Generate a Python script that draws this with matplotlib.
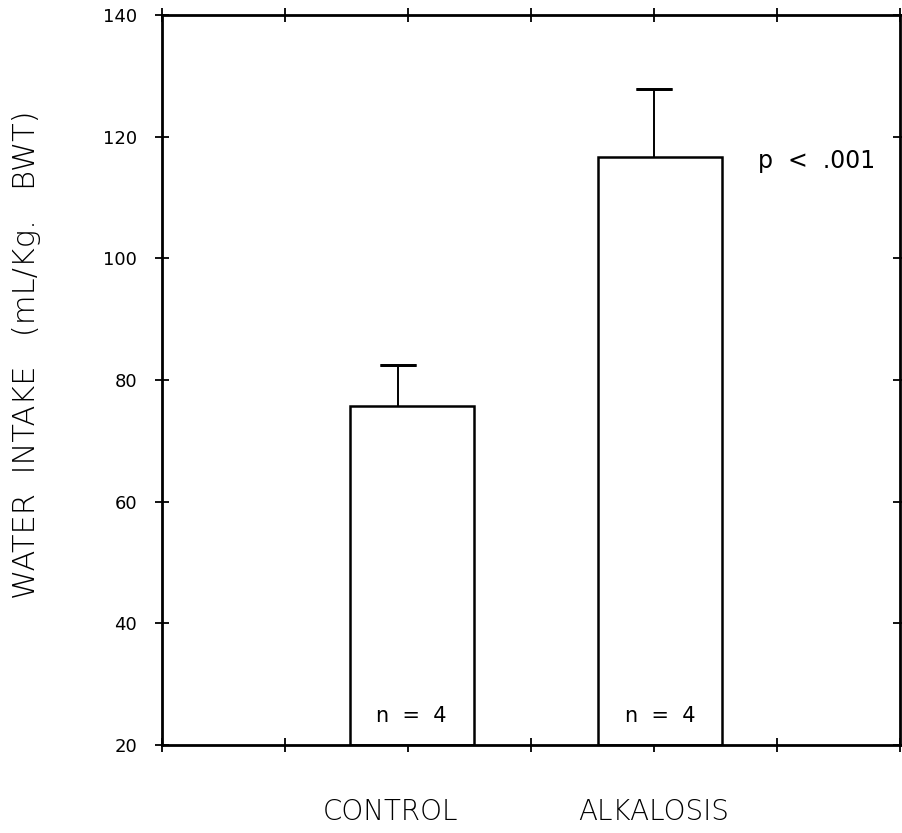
import matplotlib
matplotlib.use("Agg")
import matplotlib.pyplot as plt
from matplotlib.transforms import blended_transform_factory

categories = ["CONTROL", "ALKALOSIS"]
means = [75.8, 116.7]
errors = [6.7, 11.2]
n_labels = ["n  =  4", "n  =  4"]
y_ticks = [20, 40, 60, 80, 100, 120, 140]
y_tick_labels = ["20", "40", "60", "80", "100", "120", "140"]

bar_pos = [2.03, 4.05]
err_pos = [1.92, 4.0]
label_pos = [1.86, 4.0]

plt.rcParams['font.family'] = ['DejaVu Sans']
fig = plt.figure(figsize=(9.03, 8.33), dpi=100)
ax = fig.add_axes([162/903, 88/833, 738/903, 730/833])

ax.bar(bar_pos, [m - 20 for m in means], bottom=20, width=1.01,
       facecolor="white", edgecolor="black", linewidth=1.8, zorder=2)
for xp, m, e in zip(err_pos, means, errors):
    ax.errorbar([xp], [m + e / 2], yerr=[[e / 2], [e / 2]], fmt="none",
                ecolor="black", elinewidth=1.4, capsize=0, zorder=3)
    ax.errorbar([xp], [m + e], yerr=[[0], [0]], fmt="none", ecolor="black",
                capsize=13, capthick=2.0, zorder=3)

ax.set_xlim(0, 6)
ax.set_ylim(20, 140)
ax.set_xticks(range(0, 7))
ax.set_xticklabels([])
ax.set_yticks(y_ticks)
ax.set_yticklabels(y_tick_labels, fontsize=13)
ax.tick_params(axis="both", direction="inout", length=10, width=1.3,
               top=True, right=True, pad=13)
for s in ax.spines.values():
    s.set_linewidth(2.0)

tr = blended_transform_factory(ax.transData, fig.transFigure)
for xp, lab in zip(label_pos, categories):
    ax.text(xp, 21/833, lab, transform=tr, ha="center", va="center",
            fontsize=20, fontweight="light")
for xp, lab in zip(bar_pos, n_labels):
    ax.text(xp, 117/833, lab, transform=tr, ha="center", va="center", fontsize=15)
ax.text(817/903, 672/833, "p  <  .001", transform=fig.transFigure,
        ha="center", va="center", fontsize=17)

fig.text(27/903, (833 - 355)/833, "WATER  INTAKE   (mL/Kg.   BWT)", rotation=90,
         ha="center", va="center", fontsize=22, fontweight="light")

fig.savefig("out.png", dpi=100)
